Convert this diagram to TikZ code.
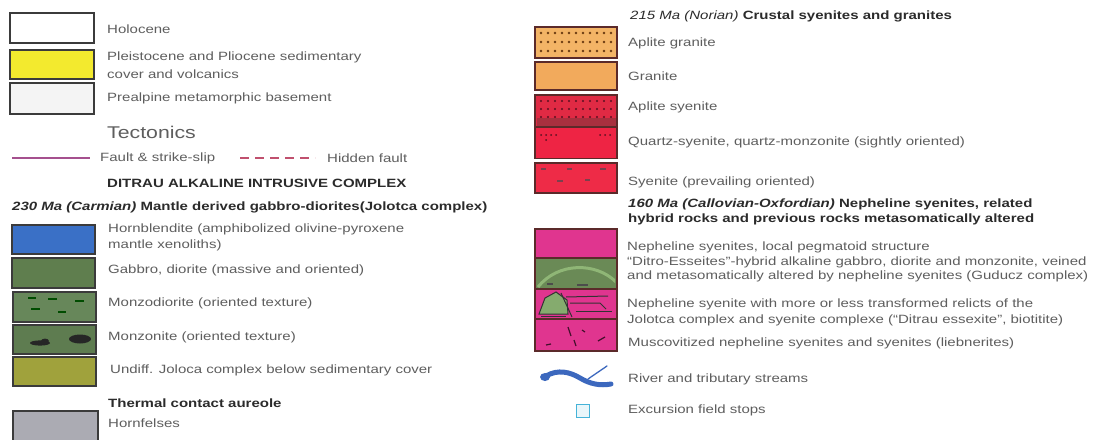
\documentclass[tikz,border=0pt]{standalone}
\usepackage{fontspec}
\setmainfont{Liberation Sans}[FakeStretch=1.25]
\definecolor{txt}{HTML}{5E5E5E}
\definecolor{hd}{HTML}{2B2B2B}
\definecolor{swb}{HTML}{3B3B3B}
\definecolor{rb}{HTML}{5B2A2A}
\definecolor{yel}{HTML}{F3EA2E}
\definecolor{pre}{HTML}{F4F4F4}
\definecolor{blu}{HTML}{3A70C6}
\definecolor{gab}{HTML}{5F7E4E}
\definecolor{mzd}{HTML}{67875A}
\definecolor{mzn}{HTML}{5E7C50}
\definecolor{und}{HTML}{A0A23C}
\definecolor{hrn}{HTML}{ABABB3}
\definecolor{agr}{HTML}{F3B466}
\definecolor{gra}{HTML}{F2AA5C}
\definecolor{asy}{HTML}{E02A44}
\definecolor{qsy}{HTML}{EE2444}
\definecolor{sye}{HTML}{EE2B47}
\definecolor{pnk}{HTML}{E0358F}
\definecolor{dit}{HTML}{6A8A56}
\definecolor{arc}{HTML}{8FB676}
\definecolor{riv}{HTML}{3C68BE}
\definecolor{exc}{HTML}{45B3D8}
\definecolor{flt}{HTML}{A5508E}
\definecolor{hfl}{HTML}{C0506E}
\definecolor{dotb}{HTML}{6A3A10}
\definecolor{dotr}{HTML}{5A1020}
\definecolor{band}{HTML}{A8303F}
\begin{document}
\begin{tikzpicture}[x=1pt,y=-1pt]
\tikzset{
 sw/.style={draw=swb, line width=1.8pt, minimum width=83pt, minimum height=29pt, inner sep=0pt, outer sep=0pt},
 rsw/.style={sw, draw=rb, minimum width=82pt},
 lbl/.style={anchor=west, inner sep=0pt, text=txt, font=\fontsize{12}{14}\selectfont},
 hdl/.style={lbl, text=hd, font=\fontsize{12}{14}\selectfont\bfseries},
 faultline/.style={draw=flt, line width=1.2pt},
 hiddenline/.style={draw=hfl, line width=1.2pt, dash pattern=on 9pt off 6pt},
}
\fill[white] (0,0) rectangle (1100,439);
\useasboundingbox (0,0) rectangle (1100,439);

% ---------- left column swatches ----------
\node[sw, minimum width=84pt, minimum height=30pt, fill=white] (holo) at (52,28) {};
\node[sw, minimum width=84pt, fill=yel] (plei) at (52,64.5) {};
\node[sw, minimum width=84pt, minimum height=31pt, fill=pre] (prea) at (52,98.5) {};
\node[sw, fill=blu] (hbl) at (53.5,239.5) {};
\node[sw, minimum height=30pt, fill=gab] (gabb) at (53.5,273) {};
\node[sw, minimum height=30pt, fill=mzd] (mzdi) at (54.5,307) {};
\node[sw, fill=mzn] (mzon) at (54.5,339.5) {};
\node[sw, fill=und] (undf) at (54.5,371.5) {};
\node[sw, minimum width=85pt, minimum height=34pt, fill=hrn] (hrnf) at (55.5,428) {};

% monzodiorite dashes
\begin{scope}[draw=black!70!green, line width=1.5pt]
\draw (28,298) -- (36,298);
\draw (48,299) -- (57,299);
\draw (75,301) -- (84,301);
\draw (31,309) -- (40,309);
\draw (58,312) -- (66,312);
\end{scope}
% monzonite blobs
\fill[black!85] (40,343) ellipse [x radius=10, y radius=2.6];
\fill[black!85] (45,341) ellipse [x radius=4, y radius=2.4];
\fill[black!85] (80,339) ellipse [x radius=11, y radius=4.5];

% ---------- left column texts ----------
\node[lbl] (t-holo) at (107,29) {Holocene};
\node[lbl] (t-plei1) at (107,57) {Pleistocene and Pliocene sedimentary};
\node[lbl] (t-plei2) at (107,74) {cover and volcanics};
\node[lbl] (t-prea) at (107,98) {Prealpine metamorphic basement};
\node[lbl, font=\fontsize{17}{19}\selectfont] (t-tect) at (107,132) {Tectonics};
\coordinate (f1) at (12,158);
\coordinate (f2) at (90,158);
\draw[faultline] (f1) -- (f2);
\node[lbl] (t-fault) at (100,158) {Fault \& strike-slip};
\coordinate (h1) at (240,158);
\coordinate (h2) at (315,158);
\draw[hiddenline] (h1) -- (h2);
\node[lbl] (t-hid) at (327,158) {Hidden fault};
\node[hdl] (t-ditrau) at (107,183) {DITRAU ALKALINE INTRUSIVE COMPLEX};
\node[hdl] (t-230) at (12,207) {\textit{230 Ma (Carmian)} Mantle derived gabbro-diorites(Jolotca complex)};
\node[lbl] (t-hbl1) at (108,229) {Hornblendite (amphibolized olivine-pyroxene};
\node[lbl] (t-hbl2) at (108,245) {mantle xenoliths)};
\node[lbl] (t-gab) at (108,270) {Gabbro, diorite (massive and oriented)};
\node[lbl] (t-mzd) at (108,303) {Monzodiorite (oriented texture)};
\node[lbl] (t-mzn) at (108,337) {Monzonite (oriented texture)};
\node[lbl] (t-und) at (110,370) {Undiff. Joloca complex below sedimentary cover};
\node[hdl] (t-therm) at (108,403) {Thermal contact aureole};
\node[lbl] (t-hrn) at (108,423) {Hornfelses};

% ---------- right column swatches ----------
\node[rsw, minimum height=31pt, fill=agr] (agr) at (576,42.5) {};
\node[rsw, minimum height=28pt, fill=gra] (gra) at (576,76) {};
\node[rsw, minimum height=32pt, fill=asy] (asy) at (576,111) {};
\node[rsw, minimum height=31pt, fill=qsy] (qsy) at (576,143) {};
\node[rsw, minimum height=30pt, fill=sye] (sye) at (576,178) {};
\node[rsw, minimum height=29pt, fill=pnk] (pnk) at (576,243.5) {};
\node[rsw, minimum height=31pt, fill=dit] (dit) at (576,273.5) {};
\node[rsw, minimum height=30pt, fill=pnk] (rel) at (576,304) {};
\node[rsw, minimum height=32pt, fill=pnk] (mus) at (576,335) {};

% aplite granite dots
\foreach \yy in {33,42,51} {
  \foreach \xx in {541,548,...,611} {
    \fill[dotb] (\xx,\yy) circle [radius=1.4];
  }
}
% aplite syenite dots and dark band
\fill[band] (536.5,118) rectangle (615.5,126);
\foreach \yy in {101,109,117} {
  \foreach \xx in {541,548,...,611} {
    \fill[dotr] (\xx,\yy) circle [radius=1.2];
  }
}
% quartz syenite dots
\foreach \xx in {541,546,551,556,600,605,610} {
  \fill[dotr] (\xx,135) circle [radius=1];
}
\fill[dotr] (546,140) circle [radius=1];
% syenite dashes
\begin{scope}[draw=dotr!80, line width=1.2pt]
\draw (541,169) -- (546,169);
\draw (567,169) -- (572,169);
\draw (600,169) -- (606,169);
\draw (557,181) -- (563,181);
\draw (585,180) -- (590,180);
\end{scope}
% Ditro arc
\begin{scope}
\clip (537,259) rectangle (615,288);
\draw[arc, line width=3pt] (538,287) .. controls (558,262) and (596,262) .. (616,282);
\draw[black!70, line width=1.3pt] (547,284) -- (553,284);
\draw[black!70, line width=1.3pt] (577,285) -- (588,285);
\end{scope}
% relict polygon and lines
\filldraw[fill=arc!80!gab, draw=black!80, line width=1pt] (539,314) -- (545,298) -- (556,292) -- (567,300) -- (568,314) -- cycle;
\begin{scope}[draw=black!80, line width=1pt]
\draw (561,293) -- (572,317);
\draw (566,297) -- (608,296);
\draw (570,303) -- (600,303) -- (606,309);
\draw (576,311) -- (612,311);
\draw (541,316) -- (566,316);
\end{scope}
% muscovitized strokes
\begin{scope}[draw=black!70!pnk, line width=1.2pt]
\draw (546,345) -- (551,344);
\draw (568,327) -- (571,336);
\draw (574,340) -- (576,346);
\draw (598,341) -- (605,337);
\draw (582,330) -- (585,332);
\end{scope}

% river
\coordinate (r1) at (546,376);
\coordinate (r2) at (611,384);
\coordinate (r3) at (607,366);
\fill[riv] (545,377) ellipse [x radius=5, y radius=4];
\draw[riv, line width=5pt, line cap=round] (r1) .. controls (558,369) and (570,372) .. (580,378) .. controls (590,384) and (600,386) .. (r2);
\draw[riv, line width=1.3pt, line cap=round] (588,379) -- (r3);
% excursion square
\node[draw=exc, fill=exc!12, line width=1.5pt, minimum size=13pt, inner sep=0pt] (stop) at (583,411) {};

% ---------- right column texts ----------
\node[lbl, text=hd] (t-215) at (630,16) {\textit{215 Ma (Norian)} \textbf{Crustal syenites and granites}};
\node[lbl] (t-agr) at (628,43) {Aplite granite};
\node[lbl] (t-gra) at (628,76) {Granite};
\node[lbl] (t-asy) at (628,107) {Aplite syenite};
\node[lbl] (t-qsy) at (628,142) {Quartz-syenite, quartz-monzonite (sightly oriented)};
\node[lbl] (t-sye) at (628,182) {Syenite (prevailing oriented)};
\node[hdl] (t-160a) at (628,204) {\textit{160 Ma (Callovian-Oxfordian)} Nepheline syenites, related};
\node[hdl] (t-160b) at (628,219) {hybrid rocks and previous rocks metasomatically altered};
\node[lbl] (t-pnk) at (627,247) {Nepheline syenites, local pegmatoid structure};
\node[lbl] (t-dit1) at (627,262) {“Ditro-Esseites”-hybrid alkaline gabbro, diorite and monzonite, veined};
\node[lbl] (t-dit2) at (627,276) {and metasomatically altered by nepheline syenites (Guducz complex)};
\node[lbl] (t-rel1) at (627,304) {Nepheline syenite with more or less transformed relicts of the};
\node[lbl] (t-rel2) at (627,320) {Jolotca complex and syenite complexe (“Ditrau essexite”, biotitite)};
\node[lbl] (t-mus) at (628,343) {Muscovitized nepheline syenites and syenites (liebnerites)};
\node[lbl] (t-riv) at (628,379) {River and tributary streams};
\node[lbl] (t-exc) at (628,410) {Excursion field stops};
\end{tikzpicture}
\end{document}
